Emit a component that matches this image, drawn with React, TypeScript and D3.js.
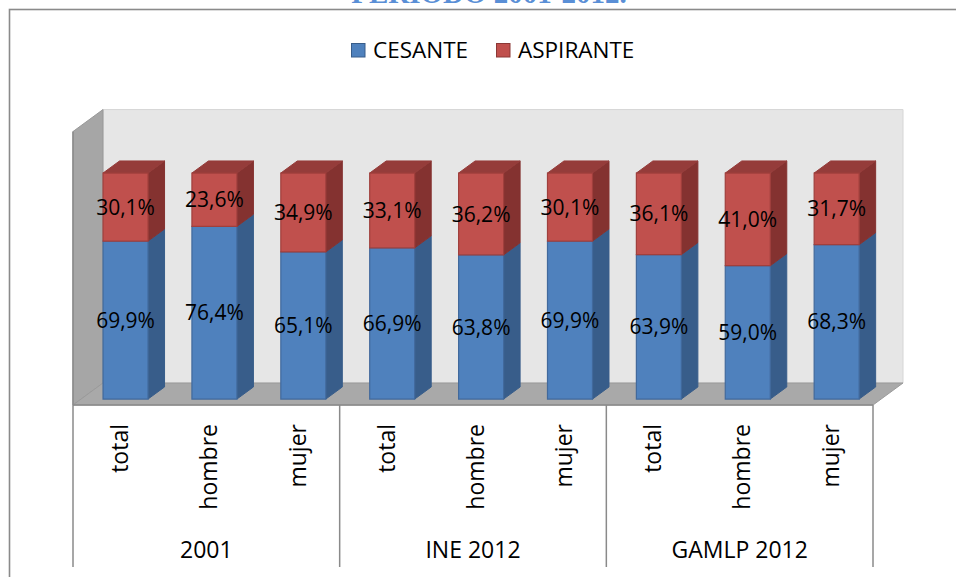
import React from 'react';
import * as d3 from 'd3';

const title = 'PERIODO 2001-2012.';
const seriesNames = ['CESANTE', 'ASPIRANTE'];
const groups = ['2001', 'INE 2012', 'GAMLP 2012'];
const categories = ['total', 'hombre', 'mujer', 'total', 'hombre', 'mujer', 'total', 'hombre', 'mujer'];
const cesante = [69.9, 76.4, 65.1, 66.9, 63.8, 69.9, 63.9, 59.0, 68.3];
const aspirante = [30.1, 23.6, 34.9, 33.1, 36.2, 30.1, 36.1, 41.0, 31.7];
const axisMax = 121;

const W = 956;
const H = 577;
const FONT = "'Open Sans', Lato, sans-serif";

// 3D oblique geometry
const X0 = 73;
const X1 = 873;
const Y0 = 405;
const DX = 30;
const DY = 22;
const Z0 = 0.27;
const Z1 = 0.82;
const BAR_W = 45;

const colors = {
  blueFront: '#4F81BD',
  blueSide: '#385D8A',
  blueEdge: '#41699C',
  redFront: '#C0504D',
  redSide: '#843230',
  redTop: '#953C3A',
  redEdge: '#A03F3C',
};

const fmt = (v: number) => v.toFixed(1).replace('.', ',') + '%';

export default function App() {
  const x = d3.scaleBand<number>().domain(d3.range(categories.length)).range([X0, X1]);
  const y = d3.scaleLinear().domain([0, 100]).range([Y0, Y0 - 226]);
  const bw = x.bandwidth();

  const P = (px: number, v: number, z: number): [number, number] => [px + z * DX, y(v) - z * DY];
  const poly = (pts: [number, number][]) => pts.map((p) => p.join(',')).join(' ');

  const wallTop = axisMax;
  const backWall = poly([P(X0, 0, 1), P(X0, wallTop, 1), P(X1, wallTop, 1), P(X1, 0, 1)]);
  const sideWall = poly([P(X0, 0, 0), P(X0, wallTop, 0), P(X0, wallTop, 1), P(X0, 0, 1)]);
  const floor = poly([P(X0, 0, 0), P(X0, 0, 1), P(X1, 0, 1), P(X1, 0, 0)]);

  const bars = categories.map((_, i) => {
    const left = (x(i) as number) + (bw - BAR_W) / 2;
    const right = left + BAR_W;
    const b = cesante[i];
    const t = b + aspirante[i];
    const segs = [
      { lo: 0, hi: b, front: colors.blueFront, side: colors.blueSide, edge: colors.blueEdge, label: fmt(cesante[i]) },
      { lo: b, hi: t, front: colors.redFront, side: colors.redSide, edge: colors.redEdge, label: fmt(aspirante[i]) },
    ];
    return (
      <g key={i}>
        {segs.map((s, k) => {
          const front = poly([P(left, s.lo, Z0), P(left, s.hi, Z0), P(right, s.hi, Z0), P(right, s.lo, Z0)]);
          const side = poly([P(right, s.lo, Z0), P(right, s.hi, Z0), P(right, s.hi, Z1), P(right, s.lo, Z1)]);
          const top = poly([P(left, s.hi, Z0), P(left, s.hi, Z1), P(right, s.hi, Z1), P(right, s.hi, Z0)]);
          return (
            <g key={k}>
              <polygon points={side} fill={s.side} stroke={s.side} strokeWidth={1} strokeLinejoin="round" />
              {k === segs.length - 1 && (
                <polygon points={top} fill={colors.redTop} stroke={colors.redTop} strokeWidth={1} strokeLinejoin="round" />
              )}
              <polygon points={front} fill={s.front} stroke={s.edge} strokeWidth={1.2} />
            </g>
          );
        })}
        {segs.map((s, k) => {
          const [cx, cy] = P((left + right) / 2, (s.lo + s.hi) / 2, Z0);
          return (
            <text key={'l' + k} x={cx} y={cy} dy="0.36em" textAnchor="middle" fontFamily={FONT} fontSize={21} fill="#000">
              {s.label}
            </text>
          );
        })}
      </g>
    );
  });

  const gridLines = [0, 3, 6, 9].map((k) => X0 + k * bw);

  return (
    <svg width={W} height={H} style={{ position: 'absolute', left: 0, top: 0, background: '#fff' }}>
      <text x={489} y={3} textAnchor="middle" fontFamily="'Liberation Serif', 'DejaVu Serif', serif" fontWeight="bold" fontSize={29} fill="#5A8FD6">
        {title}
      </text>
      <rect x={9.5} y={9.5} width={1000} height={1000} fill="#fff" stroke="#8A8A8A" strokeWidth={1.6} />

      {/* legend */}
      <g fontFamily={FONT} fontSize={22.5} fill="#000">
        <rect x={351.5} y={43.5} width={13.5} height={13.5} fill={colors.blueFront} stroke={colors.blueSide} strokeWidth={1} />
        <text x={373} y={57.5}>{seriesNames[0]}</text>
        <rect x={496.5} y={43.5} width={13.5} height={13.5} fill={colors.redFront} stroke="#8C3836" strokeWidth={1} />
        <text x={518} y={57.5}>{seriesNames[1]}</text>
      </g>

      {/* walls & floor */}
      <polygon points={backWall} fill="#E6E6E6" stroke="#D6D6D6" strokeWidth={1} />
      <polygon points={sideWall} fill="#A6A6A6" stroke="#999" strokeWidth={1} />
      <polygon points={floor} fill="#A9A9A9" stroke="#9A9A9A" strokeWidth={1} />
      <line x1={X0} x2={X0} y1={y(wallTop)} y2={Y0} stroke="#8A8A8A" strokeWidth={1.5} />
      <line x1={X0} x2={X1} y1={Y0} y2={Y0} stroke="#8A8A8A" strokeWidth={1.5} />

      {bars}

      {/* category axis table */}
      {gridLines.map((gx, k) => (
        <line key={k} x1={gx} x2={gx} y1={Y0} y2={567} stroke="#8A8A8A" strokeWidth={1.5} />
      ))}
      <g fontFamily={FONT} fontSize={23} fill="#000">
        {categories.map((c, i) => {
          const cx = (x(i) as number) + bw / 2;
          return (
            <text key={i} transform={`translate(${cx + 10.5},${424}) rotate(-90)`} textAnchor="end">
              {c}
            </text>
          );
        })}
        {groups.map((g, k) => (
          <text key={k} x={X0 + (k * 3 + 1.5) * bw} y={558} textAnchor="middle" fontSize={23}>
            {g}
          </text>
        ))}
      </g>
    </svg>
  );
}
